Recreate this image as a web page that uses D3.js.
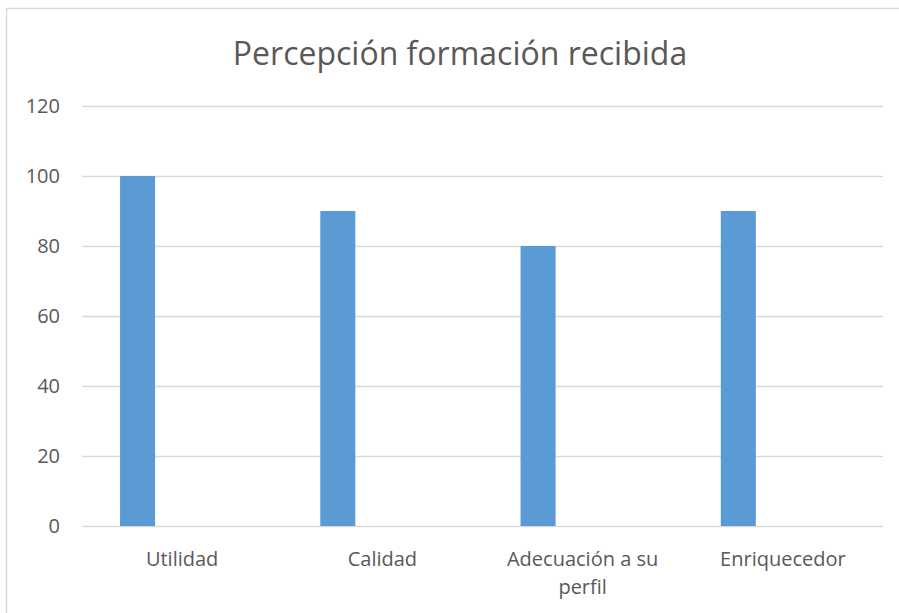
<!DOCTYPE html>
<html>
<head>
<meta charset="utf-8">
<script src="https://cdn.jsdelivr.net/npm/d3@7"></script>
<style>
  body { margin: 0; background: #fff; }
  svg { display: block; font-family: "Open Sans", sans-serif; }
</style>
</head>
<body>
<svg id="chart" width="899" height="613"></svg>
<script>
// data
var categories = ["Utilidad", "Calidad", "Adecuación a su perfil", "Enriquecedor"];
var values = [100, 90, 80, 90];
var yTicks = [0, 20, 40, 60, 80, 100, 120];
var title = "Percepción formación recibida";

var svg = d3.select("#chart"),
    margin = {top: 106, right: 16, bottom: 87, left: 82},
    width = +svg.attr("width") - margin.left - margin.right,
    height = +svg.attr("height") - margin.top - margin.bottom;

// chart area frame (top and left edges visible)
svg.append("path")
    .attr("d", "M6.5,613V8.5H899")
    .attr("fill", "none")
    .attr("stroke", "#d9d9d9")
    .attr("stroke-width", 1.5);

svg.append("text")
    .attr("x", 460)
    .attr("y", 65)
    .attr("text-anchor", "middle")
    .attr("font-size", 32)
    .attr("fill", "#595959")
    .text(title);

var group = svg.append("g")
    .attr("transform", "translate(" + margin.left + "," + margin.top + ")");

var xscale = d3.scaleBand()
    .domain(categories)
    .range([0, width])
    .padding(0);

var yscale = d3.scaleLinear()
    .domain([0, 120])
    .range([height, 0]);

// gridlines
group.append("g")
    .selectAll("line")
    .data(yTicks)
    .enter().append("line")
    .attr("x1", 0)
    .attr("x2", width)
    .attr("y1", function(d) { return yscale(d) + 0.5; })
    .attr("y2", function(d) { return yscale(d) + 0.5; })
    .attr("stroke", "#d9d9d9")
    .attr("stroke-width", 1.5);

// y tick labels
group.append("g")
    .selectAll("text")
    .data(yTicks)
    .enter().append("text")
    .attr("x", -22)
    .attr("y", function(d) { return yscale(d); })
    .attr("dy", "0.36em")
    .attr("text-anchor", "end")
    .attr("font-size", 20)
    .attr("fill", "#595959")
    .text(function(d) { return d; });

// bars sit in the left part of each band (first of a cluster)
var bw = xscale.bandwidth();
group.append("g")
    .selectAll("rect")
    .data(values)
    .enter().append("rect")
    .attr("x", function(d, i) { return xscale(categories[i]) + bw * 0.19; })
    .attr("y", function(d) { return yscale(d); })
    .attr("width", bw * 0.175)
    .attr("height", function(d) { return yscale(0) - yscale(d); })
    .attr("fill", "#5b9bd5");

// category labels, wrapped like the original
var wrapped = {"Adecuación a su perfil": ["Adecuación a su", "perfil"]};
var labels = group.append("g")
    .selectAll("text")
    .data(categories)
    .enter().append("text")
    .attr("x", function(d) { return xscale(d) + bw / 2; })
    .attr("y", height + 40)
    .attr("text-anchor", "middle")
    .attr("font-size", 20)
    .attr("fill", "#595959");

labels.each(function(d) {
    var lines = wrapped[d] || [d];
    var t = d3.select(this);
    lines.forEach(function(l, i) {
        t.append("tspan")
            .attr("x", xscale(d) + bw / 2)
            .attr("dy", i === 0 ? 0 : 28)
            .text(l);
    });
});
</script>
</body>
</html>
